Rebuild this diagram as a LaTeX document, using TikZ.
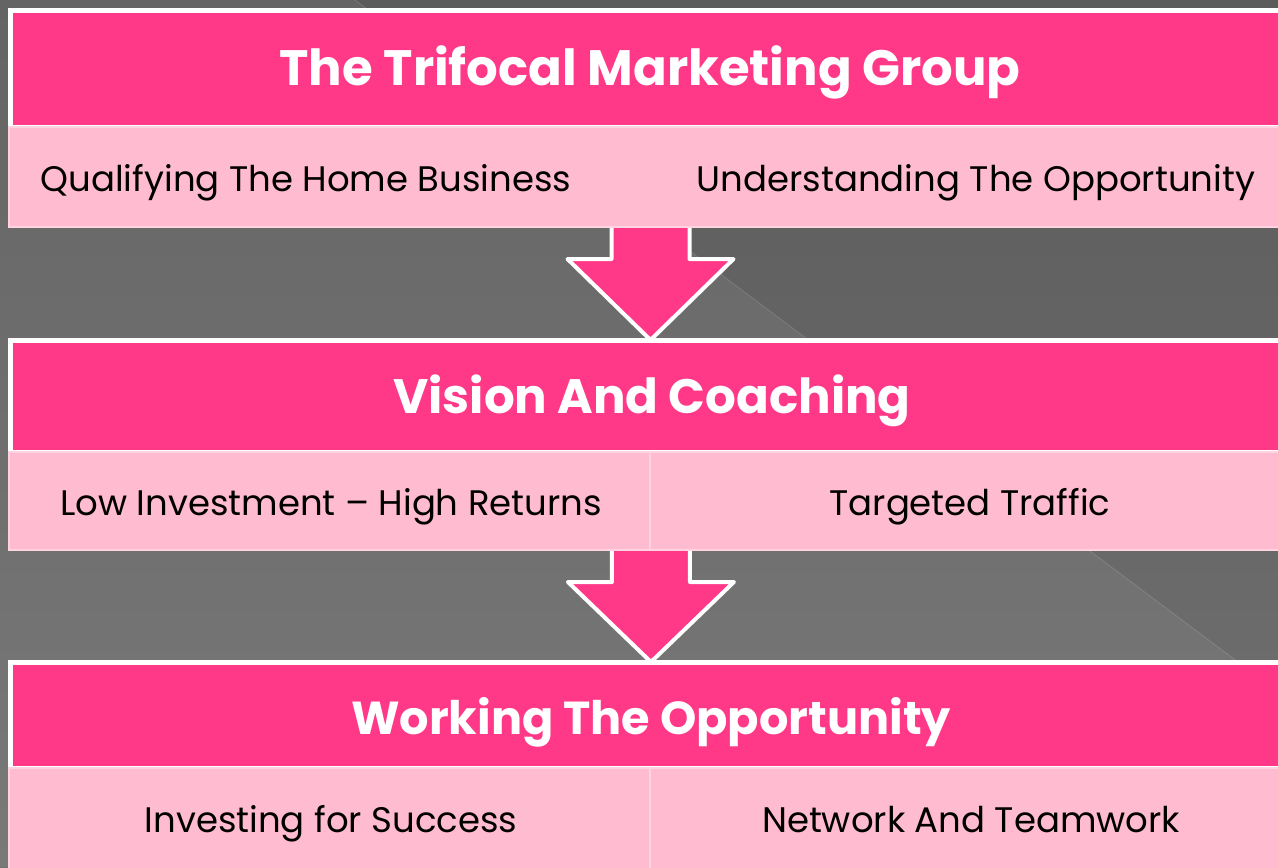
\documentclass[tikz,border=0pt]{standalone}
\usepackage{fontspec}
\setmainfont{Poppins}
\usetikzlibrary{calc,positioning}

\definecolor{trifocalpink}{HTML}{FF3887}
\definecolor{softpink}{HTML}{FFBBD0}
\definecolor{edgepink}{HTML}{FFD3DF}
\definecolor{bgtop}{HTML}{5B5B5B}
\definecolor{bgbot}{HTML}{717171}

\tikzset{
  headbar/.style={draw=white, fill=trifocalpink, line width=0.1cm, outer sep=0pt,
    inner sep=0pt, minimum width=25.6cm},
  headtext/.style={text=white, inner sep=0pt, anchor=base,
    font=\bfseries\fontsize{#1}{32}\selectfont},
  headtext/.default=27.5,
  subbar/.style={draw=edgepink, fill=softpink, line width=0.04cm, outer sep=0pt,
    inner sep=0pt},
  subtext/.style={text=black, inner sep=0pt, anchor=base,
    font=\fontsize{20.2}{24}\selectfont},
  downarrow/.style={fill=trifocalpink, draw=white, line width=0.08cm, line join=round}
}

% block arrow from a sub row down to the next header
\newcommand{\flowarrow}[2]{%
  \filldraw[downarrow] ($(#1)+(-39,0)$) -- ++(0,31) -- ++(-44,0) -- (#1 |- #2)
    -- ($(#1)+(83,31)$) -- ++(-44,0) -- ++(0,-31);
}

\begin{document}
\begin{tikzpicture}[x=0.02cm, y=-0.02cm]
    \useasboundingbox (0,0) rectangle (1278,867);
    % backdrop
    \fill[top color=bgtop, bottom color=bgbot] (0,0) rectangle (1278,867);
    \fill[white, opacity=0.06] (355,0) -- (1278,692) -- (1278,867) -- (0,867) -- (0,0) -- cycle;
    \draw[white, opacity=0.15, line width=0.4pt] (355,0) -- (1278,692);

    % headers
    \node[headbar, minimum height=2.33cm] at (650,69) (head1) {};
    \node[headbar, minimum height=2.24cm] at (650,396) (head2) {};
    \node[headbar, minimum height=2.12cm] at (650,715) (head3) {};
    \node[headtext=28.3] at (650,85) (title1) {The Trifocal Marketing Group};
    \node[headtext] at (652,413) (title2) {Vision And Coaching};
    \node[headtext=26.3] at (651,734) (title3) {Working The Opportunity};

    % sub rows
    \node[subbar, minimum width=25.62cm, minimum height=2.0cm] at (649.5,177) (row1) {};
    \node[subtext] at (306,191) (qualify) {Qualifying The Home Business};
    \node[subtext] at (976,191) (understand) {Understanding The Opportunity};

    \node[subbar, minimum width=12.82cm, minimum height=1.96cm] at (329.5,501) (invest) {};
    \node[subbar, minimum width=12.8cm, minimum height=1.96cm] at (970,501) (traffic) {};
    \node[subtext] at (331,515) (investtxt) {Low Investment -- High Returns};
    \node[subtext] at (970,515) (traffictxt) {Targeted Traffic};

    \node[subbar, minimum width=12.82cm, minimum height=2.04cm] at (329.5,819) (success) {};
    \node[subbar, minimum width=12.8cm, minimum height=2.04cm] at (970,819) (network) {};
    \node[subtext] at (331,832) (successtxt) {Investing for Success};
    \node[subtext] at (971,832) (networktxt) {Network And Teamwork};

    % arrows
    \coordinate (from1) at ($(row1.south)+(1,1)$);
    \coordinate (from2) at ($(invest.south east)+(1,1)$);
    \flowarrow{from1}{head2.north}
    \flowarrow{from2}{head3.north}
\end{tikzpicture}
\end{document}
